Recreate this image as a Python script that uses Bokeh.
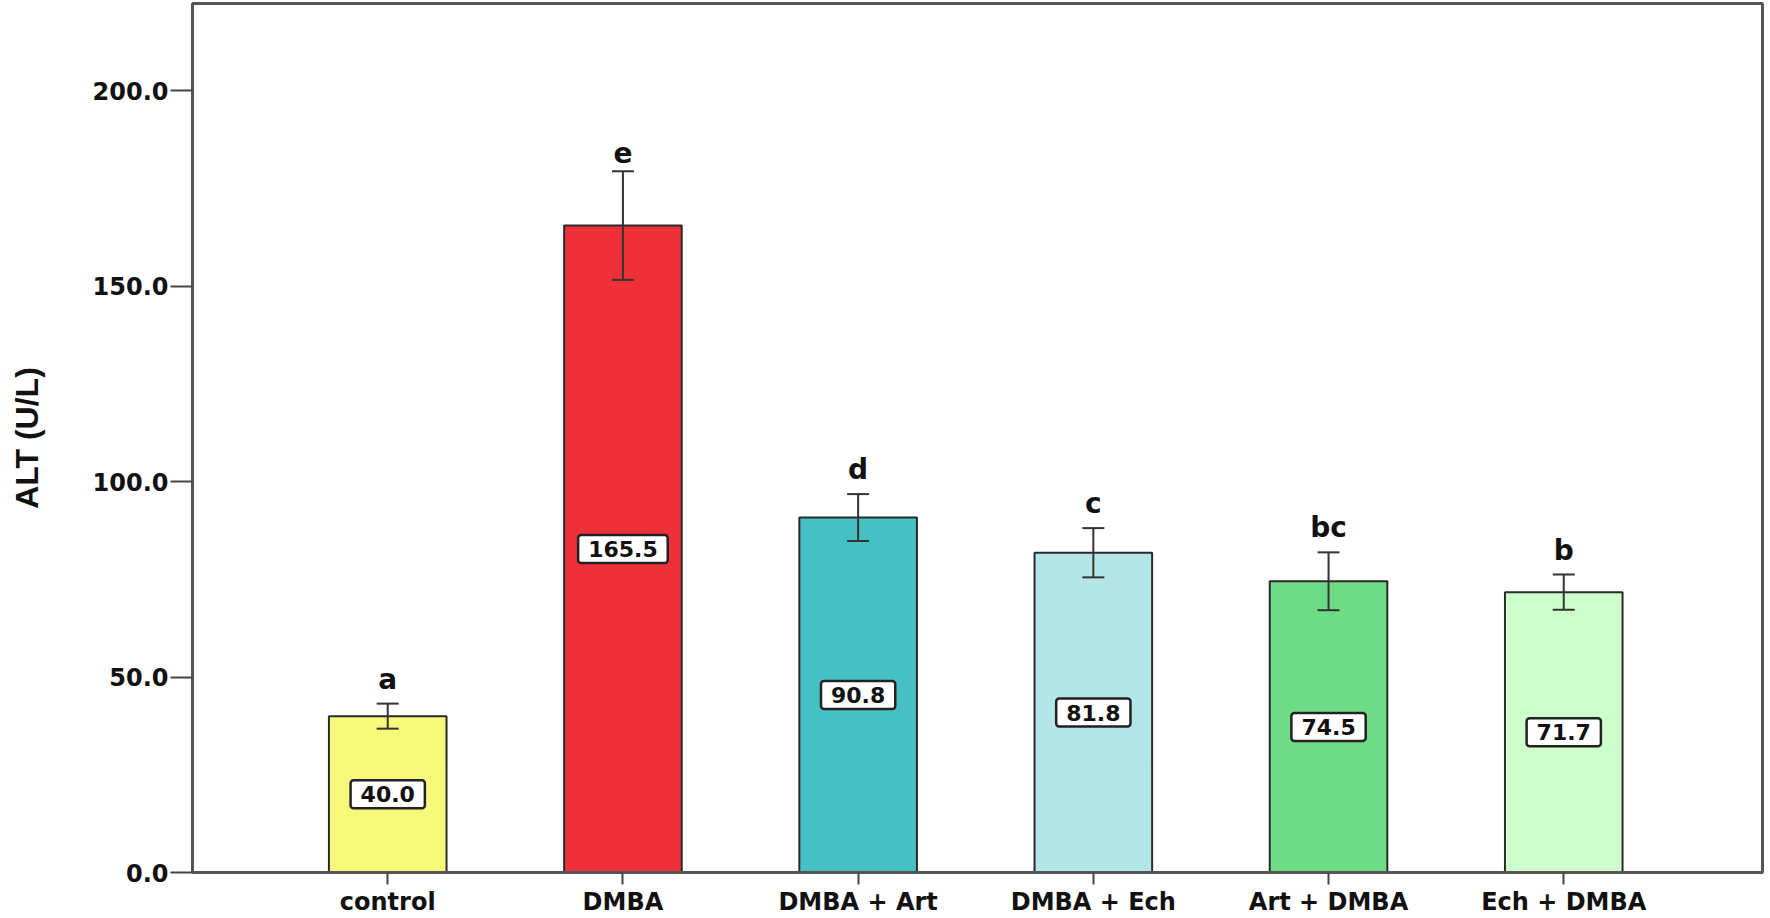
from bokeh.plotting import figure
from bokeh.models import ColumnDataSource, Whisker, FixedTicker, Range1d, PrintfTickFormatter
from bokeh.core.properties import value
from bokeh.embed import file_html
from bokeh.resources import INLINE

categories = ["control", "DMBA", "DMBA + Art", "DMBA + Ech", "Art + DMBA", "Ech + DMBA"]
means = [40.0, 165.5, 90.8, 81.8, 74.5, 71.7]
errors = [3.2, 13.9, 6.0, 6.3, 7.4, 4.5]
letters = ["a", "e", "d", "c", "bc", "b"]
colors = ["#F8F87A", "#EE3038", "#45C1C4", "#B4E6E8", "#6EDC86", "#CCFFCC"]
y_ticks = [0, 50, 100, 150, 200]

xs = list(range(len(categories)))
src = ColumnDataSource(dict(
    x=xs,
    mean=means,
    lower=[m - e for m, e in zip(means, errors)],
    upper=[m + e for m, e in zip(means, errors)],
    half=[m / 2 for m in means],
    label=[f"{m:.1f}" for m in means],
    letter=letters,
    color=colors,
))

p = figure(width=1770, height=918, x_range=Range1d(-0.83, 5.845), y_range=Range1d(0, 222.3),
           output_backend="svg", toolbar_location=None,
           min_border_left=192, min_border_top=3, min_border_right=8, min_border_bottom=0)

p.vbar(x="x", top="mean", bottom=0, width=0.5, fill_color="color", line_color="#2a2a2a",
       line_width=2, source=src)

w = Whisker(base="x", upper="upper", lower="lower", source=src, line_color="#333333",
            line_width=2, level="overlay")
w.upper_head.size = 22
w.lower_head.size = 22
w.upper_head.line_color = "#333333"
w.lower_head.line_color = "#333333"
w.upper_head.line_width = 2
w.lower_head.line_width = 2
p.add_layout(w)

p.text(x="x", y="upper", text="letter", y_offset=-8, text_align="center",
       text_baseline="bottom", text_font=value("DejaVu Sans"), text_font_style="bold",
       text_font_size="28px", text_color="#111111", source=src)

p.text(x="x", y="half", text="label", text_align="center", text_baseline="middle",
       text_font=value("DejaVu Sans"), text_font_style="bold", text_font_size="22px",
       text_color="#111111", background_fill_color="white", border_line_color="#222222",
       border_line_width=2.5, padding=[10, 6], border_radius=3, source=src)

p.xgrid.visible = False
p.ygrid.visible = False
p.outline_line_color = "#555555"
p.outline_line_width = 3

p.xaxis.ticker = FixedTicker(ticks=xs)
p.xaxis.major_label_overrides = {i: c for i, c in enumerate(categories)}
p.xaxis.major_tick_in = 0
p.xaxis.major_tick_out = 12
p.xaxis.major_label_standoff = 3
p.xaxis.major_label_text_font = "DejaVu Sans"
p.xaxis.major_label_text_font_style = "bold"
p.xaxis.major_label_text_font_size = "24px"
p.xaxis.major_label_text_color = "#111111"

p.yaxis.ticker = FixedTicker(ticks=y_ticks)
p.yaxis.formatter = PrintfTickFormatter(format="%.1f")
p.yaxis.major_tick_in = 0
p.yaxis.major_tick_out = 22
p.yaxis.major_label_standoff = 2
p.yaxis.major_label_text_font = "DejaVu Sans"
p.yaxis.major_label_text_font_style = "bold"
p.yaxis.major_label_text_font_size = "24px"
p.yaxis.major_label_text_color = "#111111"
p.yaxis.axis_label = "ALT (U/L)"
p.yaxis.axis_label_text_font = "Liberation Sans"
p.yaxis.axis_label_text_font_style = "bold"
p.yaxis.axis_label_text_font_size = "32px"
p.yaxis.axis_label_text_color = "#111111"
p.yaxis.axis_label_standoff = 45

for ax in (p.xaxis, p.yaxis):
    ax.axis_line_color = "#555555"
    ax.axis_line_width = 3
    ax.major_tick_line_color = "#444444"
    ax.major_tick_line_width = 2
    ax.minor_tick_line_color = None

open("out.html", "w").write(file_html(p, INLINE))
